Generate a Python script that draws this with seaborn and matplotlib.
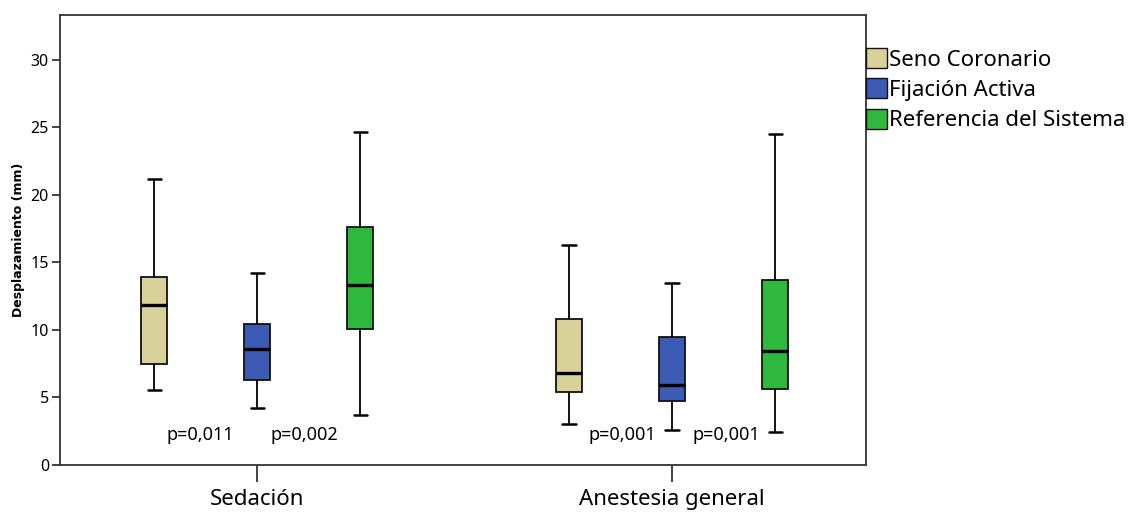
import numpy as np
import pandas as pd
import matplotlib
matplotlib.use("Agg")
import matplotlib.pyplot as plt
import seaborn as sns

# Data: five-number summaries (min, Q1, median, Q3, max)
groups = ["Sedación", "Anestesia general"]
series = ["Seno Coronario", "Fijación Activa", "Referencia del Sistema"]
sed_seno = [5.55, 7.45, 11.85, 13.9, 21.2]
sed_fija = [4.2, 6.3, 8.6, 10.45, 14.2]
sed_ref = [3.7, 10.05, 13.35, 17.6, 24.7]
anes_seno = [3.0, 5.4, 6.85, 10.8, 16.3]
anes_fija = [2.6, 4.75, 5.9, 9.45, 13.5]
anes_ref = [2.45, 5.6, 8.45, 13.7, 24.5]
pvalues = ["p=0,011", "p=0,002", "p=0,001", "p=0,001"]
p_x = [-0.137, 0.115, 0.88, 1.13]
p_y = [2.2, 2.2, 2.25, 2.25]
colors = ["#D8D29A", "#3B5BB5", "#2EB83E"]
yticks = [0, 5, 10, 15, 20, 25, 30]

rows = []
for g, vals in zip(groups, [[sed_seno, sed_fija, sed_ref], [anes_seno, anes_fija, anes_ref]]):
    for s, v in zip(series, vals):
        for x in v:
            rows.append({"grupo": g, "tipo": s, "valor": x})
df = pd.DataFrame(rows)

sns.set_style("white")
plt.rcParams["font.family"] = ["Noto Sans", "DejaVu Sans"]
plt.rcParams["text.color"] = "black"
plt.rcParams["xtick.color"] = "black"
plt.rcParams["ytick.color"] = "black"
plt.rcParams["axes.labelcolor"] = "black"

fig = plt.figure(figsize=(11.37, 5.13), dpi=100)
ax = fig.add_axes([60 / 1137, 48 / 513, 806 / 1137, 450 / 513])

sns.boxplot(data=df, x="grupo", y="valor", hue="tipo", order=groups, hue_order=series,
            palette=colors, width=0.745, gap=0.746, whis=(0, 100), saturation=1,
            linecolor="#111111", linewidth=1.3,
            medianprops={"linewidth": 2.4, "color": "black"},
            whiskerprops={"linewidth": 1.3, "color": "black"},
            capprops={"linewidth": 1.8, "color": "black"},
            ax=ax)

ax.set_xlim(-0.475, 1.4675)
ax.set_ylim(0, 33.33)
ax.set_yticks(yticks)
ax.set_yticklabels([str(t) for t in yticks], fontsize=11.5)
ax.set_xlabel("")
ax.set_ylabel("Desplazamiento (mm)", fontsize=9, fontweight="bold", labelpad=4,
              family=["DejaVu Sans"])
ax.tick_params(axis="x", length=12, width=1.2, labelsize=16, pad=5, bottom=True, color="#222222")
ax.tick_params(axis="y", length=6, width=1.2, pad=2, left=True, color="#222222")
for sp in ax.spines.values():
    sp.set_visible(True)
    sp.set_color("#333333")
    sp.set_linewidth(1.3)

for t, x, y in zip(pvalues, p_x, p_y):
    ax.text(x, y, t, ha="center", va="center", fontsize=13)

handles, labels = ax.get_legend_handles_labels()
if ax.get_legend() is not None:
    ax.get_legend().remove()
for h in handles:
    h.set_edgecolor("#111111")
    h.set_linewidth(1.0)
fig.legend(handles, labels, loc="upper left", bbox_to_anchor=(866 / 1137, 1 - 48 / 513),
           frameon=False, fontsize=16, handlelength=0.95, handleheight=1.0,
           handletextpad=0.1, labelspacing=0.35, borderpad=0, borderaxespad=0)

fig.savefig("out.png", dpi=100)
